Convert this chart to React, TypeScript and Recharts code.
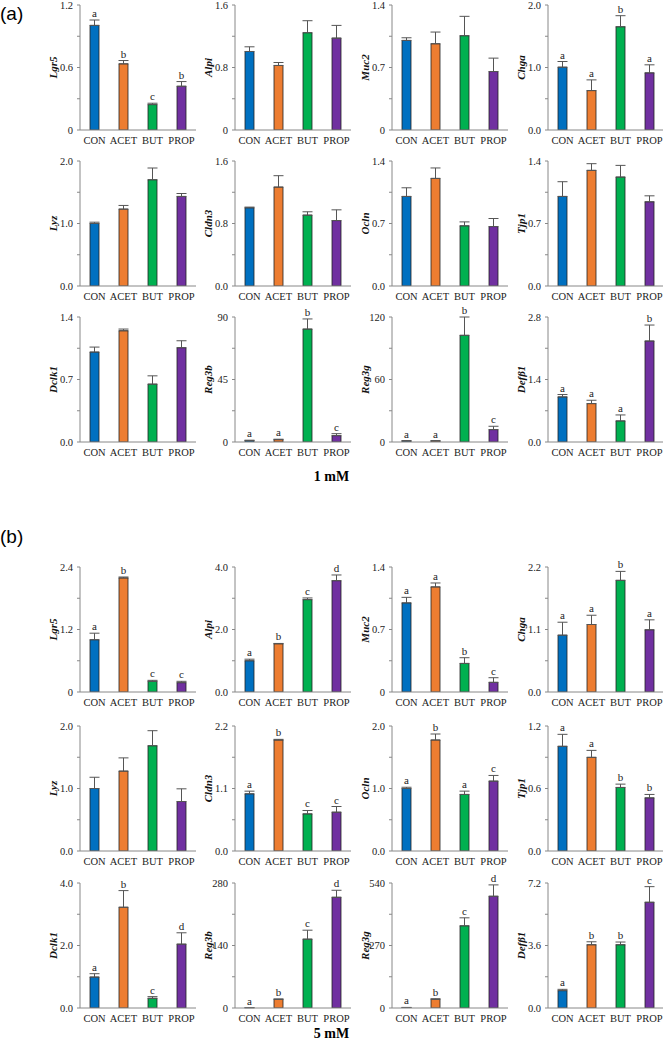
import React from 'react';
import { ComposedChart, Bar, Line, XAxis, YAxis, ErrorBar, LabelList, Cell } from 'recharts';

const groups = ['CON', 'ACET', 'BUT', 'PROP'];
const colors = ['#0070C0', '#ED7D31', '#00B050', '#7030A0'];
const genes = ['Lgr5', 'Alpi', 'Muc2', 'Chga', 'Lyz', 'Cldn3', 'Ocln', 'Tjp1', 'Dclk1', 'Reg3b', 'Reg3g', 'Defβ1'];

// 1 mM
const ticks1mM = [
  ['0', '0.6', '1.2'], ['0', '0.8', '1.6'], ['0', '0.7', '1.4'], ['0.0', '1.0', '2.0'],
  ['0.0', '1.0', '2.0'], ['0.0', '0.8', '1.6'], ['0.0', '0.7', '1.4'], ['0.0', '0.7', '1.4'],
  ['0.0', '0.7', '1.4'], ['0', '45', '90'], ['0', '60', '120'], ['0.0', '1.4', '2.8'],
];
const means1mM = [
  [1.004, 0.635, 0.244, 0.42], [1.005, 0.826, 1.245, 1.176], [1.003, 0.966, 1.056, 0.655], [1.005, 0.631, 1.652, 0.914],
  [1.0, 1.23, 1.7, 1.433], [1.001, 1.266, 0.907, 0.838], [1.003, 1.205, 0.674, 0.666], [1.003, 1.295, 1.22, 0.943],
  [1.007, 1.246, 0.648, 1.056], [1.0, 1.7, 81.3, 4.6], [1.0, 1.0, 102.4, 11.9], [1.01, 0.86, 0.472, 2.262],
];
const errs1mM = [
  [0.052, 0.032, 0.013, 0.045], [0.06, 0.038, 0.154, 0.163], [0.03, 0.131, 0.217, 0.15], [0.091, 0.171, 0.177, 0.129],
  [0.021, 0.059, 0.188, 0.047], [0.009, 0.146, 0.043, 0.137], [0.097, 0.117, 0.044, 0.09], [0.165, 0.075, 0.131, 0.067],
  [0.056, 0.019, 0.093, 0.078], [0.3, 0.3, 7.3, 1.4], [0.3, 0.3, 17.6, 3.2], [0.053, 0.075, 0.134, 0.358],
];
const letters1mM = [
  ['a', 'b', 'c', 'b'], [], [], ['a', 'a', 'b', 'a'],
  [], [], [], [],
  [], ['a', 'a', 'b', 'c'], ['a', 'a', 'b', 'c'], ['a', 'a', 'a', 'b'],
];

// 5 mM
const ticks5mM = [
  ['0', '1.2', '2.4'], ['0.0', '2.0', '4.0'], ['0', '0.7', '1.4'], ['0.0', '1.1', '2.2'],
  ['0.0', '1.0', '2.0'], ['0.0', '1.1', '2.2'], ['0.0', '1.0', '2.0'], ['0.0', '0.6', '1.2'],
  ['0.0', '2.0', '4.0'], ['0', '140', '280'], ['0', '270', '540'], ['0.0', '3.6', '7.2'],
];
const means5mM = [
  [1.003, 2.19, 0.205, 0.18], [1.0, 1.544, 2.957, 3.563], [0.998, 1.177, 0.32, 0.108], [1.0, 1.188, 1.965, 1.095],
  [1.0, 1.278, 1.684, 0.792], [1.006, 1.953, 0.653, 0.683], [1.0, 1.776, 0.905, 1.118], [1.005, 0.899, 0.61, 0.51],
  [0.99, 3.224, 0.31, 2.043], [0.5, 19.4, 154.2, 248], [2, 37.5, 355, 482.7], [1.0, 3.643, 3.643, 6.09],
];
const errs5mM = [
  [0.126, 0.018, 0.019, 0.025], [0.05, 0.01, 0.053, 0.182], [0.062, 0.044, 0.064, 0.052], [0.228, 0.163, 0.158, 0.175],
  [0.18, 0.212, 0.241, 0.203], [0.047, 0.012, 0.06, 0.1], [0.02, 0.096, 0.053, 0.091], [0.115, 0.067, 0.032, 0.033],
  [0.108, 0.533, 0.054, 0.364], [0.3, 0.8, 20.1, 15.7], [0.5, 2.5, 34.6, 49.1], [0.075, 0.172, 0.157, 0.9],
];
const letters5mM = [
  ['a', 'b', 'c', 'c'], ['a', 'b', 'c', 'd'], ['a', 'a', 'b', 'c'], ['a', 'a', 'b', 'a'],
  [], ['a', 'b', 'c', 'c'], ['a', 'b', 'a', 'c'], ['a', 'a', 'b', 'b'],
  ['a', 'b', 'c', 'd'], ['a', 'b', 'c', 'd'], ['a', 'b', 'c', 'd'], ['a', 'b', 'b', 'c'],
];

const SERIF = '"Liberation Serif", "Times New Roman", serif';
const colX = [80, 235, 392, 548];
const rowTop1 = [5, 161, 317];
const rowTop5 = [567, 726, 883];
const AXIS_W = 50;
const TOP_PAD = 22;
const PLOT_H = 125;
const X_H = 25;
const PLOT_W = 116;

function GeneLabel({ viewBox, gene }: any) {
  const cx = viewBox.x + viewBox.width - 27;
  const cy = viewBox.y + viewBox.height / 2;
  return (
    <text x={cx} y={cy} textAnchor="middle" dominantBaseline="central" transform={`rotate(-90 ${cx} ${cy})`}
      fontFamily={SERIF} fontSize={11} fontWeight="bold" fontStyle="italic" fill="#111">
      {gene}
    </text>
  );
}

function Letter({ x, y, value }: any) {
  if (!value) return null;
  return (
    <text x={x} y={y - 3} textAnchor="middle" fontFamily={SERIF} fontSize={11} fill="#222">{value}</text>
  );
}

function SmallChart({ gene, tickLabels, means, errs, letters, left, top }: any) {
  const max = parseFloat(tickLabels[2]);
  const data = groups.map((g, i) => ({
    group: g,
    mean: means[i],
    err: [0, errs[i]],
    top: means[i] + errs[i],
    letter: letters[i] ?? '',
  }));
  const ticks = [0, max / 4, max / 2, (3 * max) / 4, max];
  return (
    <div style={{ position: 'absolute', left: left - AXIS_W, top: top - TOP_PAD }}>
      <ComposedChart width={AXIS_W + PLOT_W + 4} height={TOP_PAD + PLOT_H + X_H} data={data}
        margin={{ top: TOP_PAD, right: 4, bottom: 0, left: 0 }}>
        <XAxis dataKey="group" interval={0} tickLine={false} tickSize={0} tickMargin={7} height={X_H}
          axisLine={{ stroke: '#888' }} tick={{ fontSize: 10.5, fill: '#222', fontFamily: SERIF }} />
        <YAxis type="number" domain={[0, max]} ticks={ticks} allowDataOverflow width={AXIS_W}
          tickFormatter={(v: number, i: number) => (i % 2 === 0 ? tickLabels[i / 2] : '')}
          tickSize={3} tickMargin={4} axisLine={{ stroke: '#888' }} tickLine={{ stroke: '#888' }}
          tick={{ fontSize: 10.5, fill: '#222', fontFamily: SERIF }}
          label={(p: any) => <GeneLabel viewBox={p.viewBox} gene={gene} />} />
        <Bar dataKey="mean" barSize={9} stroke="#222" strokeWidth={0.8} isAnimationActive={false}>
          {data.map((d, i) => (
            <Cell key={d.group} fill={colors[i]} />
          ))}
          <ErrorBar dataKey="err" width={5} stroke="#555" strokeWidth={1} direction="y" />
        </Bar>
        <Line dataKey="top" stroke="none" dot={false} activeDot={false} isAnimationActive={false}>
          <LabelList dataKey="letter" content={<Letter />} />
        </Line>
      </ComposedChart>
    </div>
  );
}

export default function App() {
  const panels = [
    { rows: rowTop1, ticks: ticks1mM, means: means1mM, errs: errs1mM, letters: letters1mM },
    { rows: rowTop5, ticks: ticks5mM, means: means5mM, errs: errs5mM, letters: letters5mM },
  ];
  return (
    <div style={{ position: 'absolute', left: 0, top: 0, width: 663, height: 1049, background: '#fff', overflow: 'hidden' }}>
      {panels.map((p, pi) =>
        genes.map((gene, gi) => (
          <SmallChart key={`${pi}-${gene}`} gene={gene} tickLabels={p.ticks[gi]} means={p.means[gi]}
            errs={p.errs[gi]} letters={p.letters[gi]} left={colX[gi % 4]} top={p.rows[Math.floor(gi / 4)]} />
        )),
      )}
      <div style={{ position: 'absolute', left: 0, top: 4, fontFamily: '"Liberation Sans", Arial, sans-serif', fontSize: 19, lineHeight: 1 }}>(a)</div>
      <div style={{ position: 'absolute', left: 0, top: 527, fontFamily: '"Liberation Sans", Arial, sans-serif', fontSize: 19, lineHeight: 1 }}>(b)</div>
      <div style={{ position: 'absolute', left: 0, width: 663, top: 470, textAlign: 'center', fontFamily: SERIF, fontWeight: 'bold', fontSize: 14, lineHeight: 1 }}>1 mM</div>
      <div style={{ position: 'absolute', left: 0, width: 663, top: 1027, textAlign: 'center', fontFamily: SERIF, fontWeight: 'bold', fontSize: 14, lineHeight: 1 }}>5 mM</div>
    </div>
  );
}
